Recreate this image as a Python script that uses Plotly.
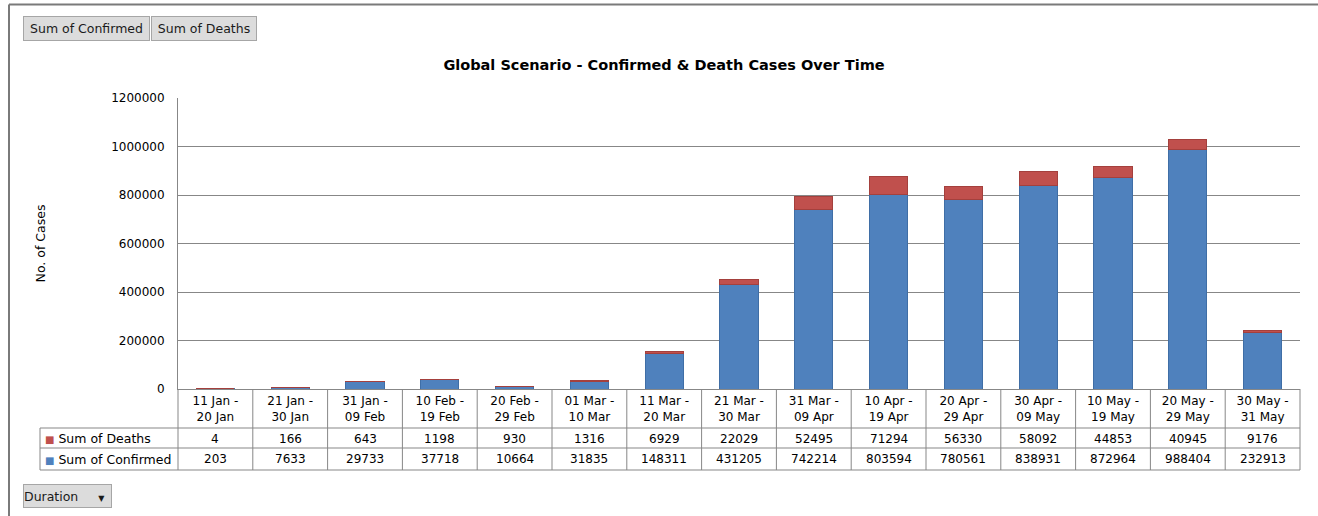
import plotly.graph_objects as go

# ---------------- data ----------------
periods = ["11 Jan -<br>20 Jan", "21 Jan -<br>30 Jan", "31 Jan -<br>09 Feb", "10 Feb -<br>19 Feb",
           "20 Feb -<br>29 Feb", "01 Mar -<br>10 Mar", "11 Mar -<br>20 Mar", "21 Mar -<br>30 Mar",
           "31 Mar -<br>09 Apr", "10 Apr -<br>19 Apr", "20 Apr -<br>29 Apr", "30 Apr -<br>09 May",
           "10 May -<br>19 May", "20 May -<br>29 May", "30 May -<br>31 May"]
deaths = [4, 166, 643, 1198, 930, 1316, 6929, 22029, 52495, 71294, 56330, 58092, 44853, 40945, 9176]
confirmed = [203, 7633, 29733, 37718, 10664, 31835, 148311, 431205, 742214, 803594, 780561,
             838931, 872964, 988404, 232913]
y_ticks = [0, 200000, 400000, 600000, 800000, 1000000, 1200000]

# ---------------- layout geometry (pixels) ----------------
W, H = 1318, 516
L, R, T, B = 178, 1300, 98, 389
FONT = "Tahoma, DejaVu Sans, sans-serif"
BLUE, RED = "#4F81BD", "#C0504D"
GRAY = "#878787"


def px(xp):
    return (xp - L) / (R - L)


def py(yp):
    return (B - yp) / (B - T)


fig = go.Figure()
fig.add_trace(go.Bar(x=periods, y=confirmed, name="Sum of Confirmed",
                     marker=dict(color=BLUE, line=dict(color="#3F6EA6", width=1))))
fig.add_trace(go.Bar(x=periods, y=deaths, name="Sum of Deaths",
                     marker=dict(color=RED, line=dict(color="#A4403D", width=1))))

fig.update_layout(
    width=W, height=H, barmode="stack", bargap=0.49, showlegend=False,
    paper_bgcolor="white", plot_bgcolor="white",
    margin=dict(l=L, r=W - R, t=T, b=H - B, pad=0),
    font=dict(family=FONT, size=12, color="#000000"),
    title=dict(text="<b>Global Scenario - Confirmed &amp; Death Cases Over Time</b>",
               x=px(664), xref="paper", xanchor="center",
               y=1 - 65 / H, yanchor="middle", font=dict(size=14.5, family=FONT)),
    xaxis=dict(type="category", range=[-0.5, len(periods) - 0.5], showgrid=False,
               showline=True, linecolor=GRAY, linewidth=1, ticks="",
               tickfont=dict(size=12), ticklabelstandoff=1, fixedrange=True),
    yaxis=dict(range=[0, 1200000], tickvals=y_ticks, tickformat="d",
               showgrid=True, gridcolor=GRAY, gridwidth=1,
               showline=True, linecolor=GRAY, linewidth=1, ticks="",
               ticklabelstandoff=10, zeroline=False, fixedrange=True,
               title=dict(text="No. of Cases", font=dict(size=12.5), standoff=62)),
)

shapes = []
n = len(periods)
table_left = px(40)
row_y = [py(428), py(448), py(470)]
# vertical column borders
for b in range(n + 1):
    shapes.append(dict(type="line", xref="paper", yref="paper", x0=b / n, x1=b / n,
                       y0=0, y1=row_y[2], line=dict(color=GRAY, width=1)))
# horizontal row borders
for yy in row_y:
    shapes.append(dict(type="line", xref="paper", yref="paper", x0=table_left, x1=1,
                       y0=yy, y1=yy, line=dict(color=GRAY, width=1)))
# left border of row header column
shapes.append(dict(type="line", xref="paper", yref="paper", x0=table_left, x1=table_left,
                   y0=row_y[0], y1=row_y[2], line=dict(color=GRAY, width=1)))
# outer frame (top and left)
shapes.append(dict(type="line", xref="paper", yref="paper", x0=px(9), x1=px(W + 5),
                   y0=py(4.5), y1=py(4.5), line=dict(color="#7A7A7A", width=2)))
shapes.append(dict(type="line", xref="paper", yref="paper", x0=px(9), x1=px(9),
                   y0=py(4.5), y1=py(H + 5), line=dict(color="#7A7A7A", width=2)))
fig.update_layout(shapes=shapes)

ann = []
deaths_y = py(438.5)
conf_y = py(459)
for i in range(n):
    ann.append(dict(x=periods[i], xref="x", y=deaths_y, yref="paper", text=str(deaths[i]),
                    showarrow=False, xanchor="center", yanchor="middle", font=dict(size=12)))
    ann.append(dict(x=periods[i], xref="x", y=conf_y, yref="paper", text=str(confirmed[i]),
                    showarrow=False, xanchor="center", yanchor="middle", font=dict(size=12)))
ann.append(dict(x=px(43), xref="paper", y=deaths_y, yref="paper", xanchor="left", yanchor="middle",
                text=f'<span style="color:{RED};font-size:10px">■</span> Sum of Deaths',
                showarrow=False, font=dict(size=12.5)))
ann.append(dict(x=px(43), xref="paper", y=conf_y, yref="paper", xanchor="left", yanchor="middle",
                text=f'<span style="color:{BLUE};font-size:10px">■</span> Sum of Confirmed',
                showarrow=False, font=dict(size=12.5)))

# pivot field buttons
btn = dict(showarrow=False, xref="paper", yref="paper", xanchor="left", yanchor="top",
           bgcolor="#DCDCDC", bordercolor="#A6A6A6", borderwidth=1, borderpad=0,
           font=dict(size=12.5, color="#1a1a1a"))
ann.append(dict(btn, x=px(23), y=py(16), width=125, height=23, text="Sum of Confirmed"))
ann.append(dict(btn, x=px(151), y=py(16), width=104, height=23, text="Sum of Deaths"))
ann.append(dict(btn, x=px(23), y=py(484), width=87, height=22, align="left",
                text='Duration&nbsp;&nbsp;&nbsp;&nbsp;&nbsp;<span style="font-size:8px">▼</span>'))
fig.update_layout(annotations=ann)

fig.write_html("out.html", config={"displayModeBar": False},
               post_script="document.body.style.margin='0';")
